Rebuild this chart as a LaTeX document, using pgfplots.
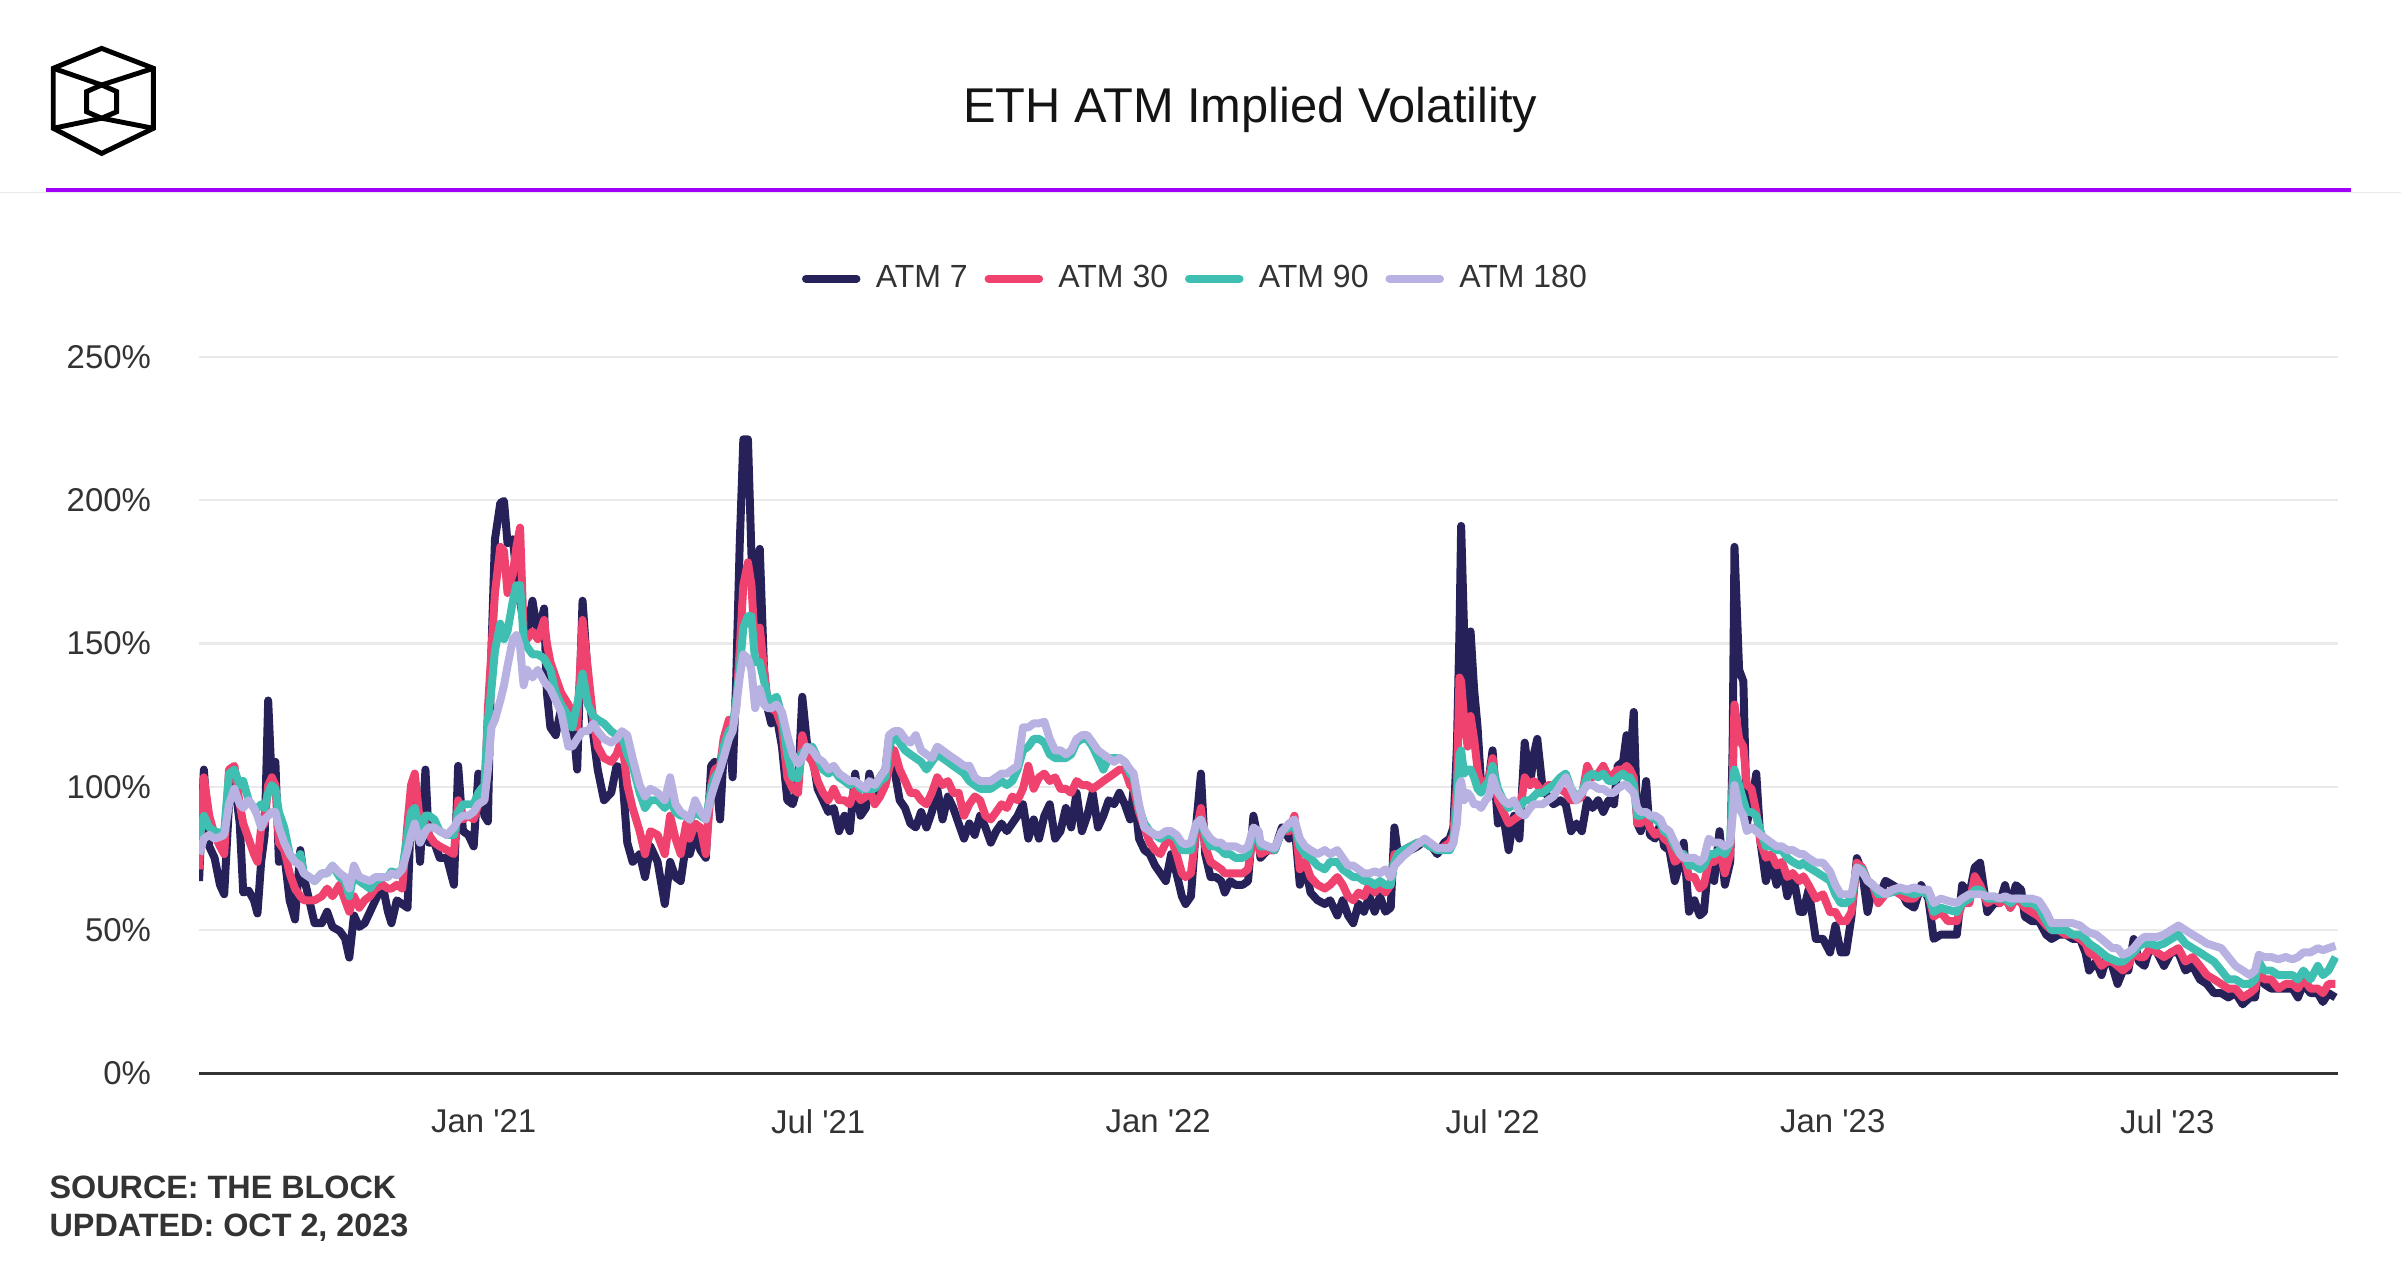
\documentclass[border=0pt]{standalone}
\usepackage{pgfplots}
\pgfplotsset{compat=1.18}
\usepackage{pgfplotstable}
\usepackage{fontspec}
\setmainfont{Liberation Sans}
\definecolor{cA}{HTML}{27215A}
\definecolor{cB}{HTML}{F0426E}
\definecolor{cC}{HTML}{3EBFB1}
\definecolor{cD}{HTML}{B8B2E2}
\definecolor{purp}{HTML}{A000F5}
\definecolor{txt}{HTML}{333333}
\definecolor{gridc}{HTML}{EAEAEA}

% x = days since 1 Jan 2021; columns: ATM 7, ATM 30, ATM 90, ATM 180 (in %)
\pgfplotstableread{
x a b c d
-154 67.1 71.2 81.9 76.5
-151.4 106 103.3 89.9 81.9
-148.5 79.2 89.9 85.8 83.2
-145.6 75.2 83.2 84.5 81.9
-142.7 65.8 79.2 83.9 82.5
-140.4 62.5 76.5 84.5 83.2
-137.8 93.9 106 104.6 93.9
-134.9 102.6 107.3 106 99.3
-132.0 87.2 93.9 100.6 93.9
-130.1 63.1 87.2 102 92.6
-127.2 63.8 81.9 95.3 95.3
-124.3 60.4 76.5 92.6 92.6
-122.4 55.8 73.8 92.6 89.9
-120.4 73.8 85.8 93.9 85.8
-118.5 83.2 87.2 92.6 88.6
-116.6 130.1 100.6 97.9 89.9
-114.6 100.6 103.3 100.6 91.2
-112.7 108.7 100.6 99.3 91.2
-110.8 73.8 80.5 91.2 85.8
-107.9 76.5 77.9 85.8 80.5
-105 60.4 69.8 76.5 76.5
-102.1 53.7 64.5 73.8 73.8
-99.2 77.9 61.8 76.5 72.5
-97.3 68.5 60.4 69.8 69.8
-94.4 60.4 60.4 68.5 68.5
-91.5 52.4 60.4 67.1 67.1
-87.6 52.4 61.8 69.8 69.8
-84.7 56.4 64.5 69.8 69.8
-81.8 51.1 61.8 72.5 72.5
-77.9 49.7 65.8 68.5 69.8
-75 47.1 60.4 67.1 68.5
-72.7 40.4 56.4 61.8 64.5
-70.2 55.1 61.8 69.8 72.5
-67.3 51.1 57.8 67.1 68.5
-64.4 52.4 60.4 65.8 67.8
-61.5 56.4 61.8 64.5 67.1
-58.6 60.4 64.5 67.1 68.5
-54.7 65.8 65.8 68.5 68.5
-51.8 56.4 64.5 68.5 68.5
-49.9 52.4 64.5 70.5 69.8
-47 60.4 65.8 69.8 69.1
-44.1 59.1 64.5 71.2 71.2
-41.2 57.8 87.2 83.2 77.9
-39.3 92.6 100.6 91.2 83.2
-37.3 100.6 104.6 92.6 87.2
-34.4 73.8 87.2 84.5 80.5
-31.5 106 87.2 89.9 84.5
-29.6 80.5 83.2 89.9 85.8
-26.7 80.5 80.5 88.6 85.8
-23.8 75.2 79.2 84.5 84.5
-19.9 75.2 77.9 83.2 83.2
-16.1 65.8 76.5 83.2 85.8
-13.8 107.3 95.3 91.2 88.6
-11.2 84.5 88.6 93.9 89.9
-8.3 83.2 89.9 93.9 89.9
-5.4 79.2 88.6 93.9 91.2
-2.9 104.6 93.9 97.9 93.9
0.4 89.9 95.3 100.6 95.3
2.3 87.9 127.4 123.4 106
4.2 147.5 147.5 134.1 120.7
6.1 186.3 167.6 147.5 123.4
9.0 199 183.7 156.9 130.1
11.0 199.7 182.3 151.5 135.4
12.9 185 167.6 154.2 142.1
15.8 186.3 174.3 164.9 151.5
17.7 174.3 183.7 170.3 152.9
19.7 165 190.4 170.3 148.8
21.6 157 154.2 151.5 135.4
23.5 154.2 151.5 148.8 140.8
26.4 164.9 154.2 146.2 138.1
29.3 152.9 151.5 146.2 140.8
32.7 162.2 158.2 144.8 136.8
34.2 132.8 150 143 135.5
36.1 120.7 143.5 140.8 134.1
39 118 138.1 132.8 130.1
41.9 127.4 132.8 128.7 126.1
45.8 116.7 128.7 124.7 114
48 124.7 126.1 120.7 114
50.6 106 120.7 128.7 116.7
53.5 164.9 158.2 139.5 119.4
56.4 138.1 140.8 128.7 119.4
59.3 118 123.4 124.7 122.1
61.7 106 114 123.4 119.4
65.1 95.3 110 122.1 116.7
69 97.9 108.7 119.4 115.4
71.9 107.3 111.3 118 116.7
74.8 106 116.7 118 119.4
77.7 80.5 100.6 111.3 118
80.6 73.8 92.6 107.3 110
84.4 76.5 84.5 97.9 100.6
87.3 68.5 76.5 92.6 96.6
90.2 79.2 84.5 95.3 99.3
94.1 73.8 83.2 95.3 97.9
98 59.1 76.5 92.6 95.3
100.9 73.8 89.9 95.3 103.3
103.8 68.5 81.9 91.2 93.9
106.6 67.1 76.5 89.9 91.2
109.6 80.5 87.2 89.9 89.9
111.5 76.5 81.9 88.6 88.6
114.4 83.2 87.2 91.2 95.3
117.3 77.9 85.8 89.9 91.2
120.2 75.2 76.5 88.6 88.6
123.1 107.3 100.6 99.3 96.6
125 108.7 106 103.3 100.6
127.9 88.6 107.3 106 106
129.8 111.3 116.7 114 110
132.7 120.7 123.4 119.4 116.7
134.7 103.3 120.7 120.7 119.4
136.6 136.8 127.4 130.1 127.4
138.5 183.7 147.5 140.8 138.1
140.5 221.2 170.3 155.5 146.2
143 221.2 178.3 159.5 144.8
144.9 181 170.3 159.5 140.8
146.9 154.2 147.5 143.5 127.4
149.4 183 155.5 143.5 134.1
151.7 140.8 140.8 136.8 128.7
153.6 127.4 130.1 131.4 127.4
155.6 122.1 127.4 130.1 127.4
158.5 124.7 126.1 131.4 128.7
161.4 114 120.7 124.7 126.1
164.3 95.3 103.3 111.3 118
167.2 93.9 99.3 103.3 111.3
170.1 100.6 97.9 103 108
172.4 131.4 118 112 110
174.9 115.4 111.3 112.7 114
177.8 111.3 108.7 114 112.7
180.7 99.3 102 110 110
183.6 95.3 97.9 106 108.7
186.5 91.2 95.3 104.6 106
189.4 92.6 99.3 106 107.3
192.3 84.5 95.3 103.3 104.6
195.2 89.9 95.3 102 103.3
198.1 84.5 93.9 100.6 102
201 104.6 99.3 102 102
203.9 89.9 95.3 99.3 100.6
206.8 92.6 96.6 99.3 99.3
208.7 104.6 99.3 99.3 102
211.6 96.6 93.9 99.3 100.6
214.5 103.3 96.6 102 103.3
217.4 106 100.6 103.3 106
219.3 116.7 106 114 118
222.2 106 112.7 118 119.4
225.1 95.3 106 115.4 119.4
228 92.6 102 112.7 116.7
230.9 87.2 97.9 111.3 115.4
233.8 85.8 97.9 110 118
236.7 91.2 95.3 108.7 112.7
239.6 85.8 93.9 106 111.3
242.5 91.2 97.9 108.7 110
245.4 99.3 103.3 111.3 114
248.3 88.6 100.6 110 112.7
251.2 96.6 102 108.7 111.3
254.1 92.6 97.9 107.3 110
257 87.2 97.9 106 108.7
259.9 81.9 89.9 104.6 107.3
262.8 87.2 93.9 102 107.3
265.7 83.2 96.6 100.6 103.3
268.6 89.9 95.3 99.3 102
271.5 85.8 89.9 99.3 102
274.4 80.5 88.6 99.3 102
277.3 84.5 91.2 100.6 103.3
280.2 87.2 93.9 102 104.6
283.1 84.5 92.6 100.6 104.6
286 87.2 96.6 102 106
288.9 89.9 95.3 106 107.3
291.8 93.9 99.3 112.7 120.7
294.7 81.9 107.3 114 120.7
297.6 88.6 99.3 116.7 122.1
300.5 81.9 103.3 116.7 122.1
303.4 89.9 104.6 115.4 122.7
306.3 93.9 102 111.3 116.7
309.2 81.9 103.3 110 112.7
312.1 84.5 99.3 110 112.7
315 92.6 99.3 110 111.3
317.9 85.8 97.9 111.3 112.7
320.8 97.9 102 115.4 116.7
323.7 84.5 100.6 116.7 118
326.6 89.9 100.6 116.7 118
329.5 97.9 99.3 114 115.4
332.4 85.8 100.6 110 112.7
335.3 89.9 102 106 111.3
338.2 95.3 103.3 110 110
341.1 93.9 104.6 110 108.7
344 97.9 106 110 110
346.9 93.9 106 108.7 108.7
349.8 88.6 100.6 104.6 106
351.7 99.3 99.3 103.3 104.6
354.6 81.9 91.2 92.6 93.9
357.5 77.9 85.8 87.2 85.8
360.4 76.5 80.5 84.5 84.5
363.3 72.5 77.9 83.2 83.2
366.2 69.8 76.5 81.9 83.2
369.1 67.1 80.5 83.2 84.5
372 76.5 81.9 83.2 84.5
374.9 69.8 76.5 81.9 83.2
377.8 61.8 69.8 77.9 80.5
379.8 59.1 68.5 77.9 79.9
382.7 61.8 69.8 77.9 80.5
385.6 87.2 84.5 87.2 87.2
388.1 104.6 92.6 88.6 88.6
390.4 76.5 79.2 83.2 84.5
393.3 68.5 73.8 79.2 81.9
396.2 68.5 72.5 79.2 80.5
399.1 67.1 71.2 77.9 80.5
401 63.1 69.8 76.5 79.2
403.9 67.1 69.8 76.5 79.2
406.8 65.8 69.8 75.2 79.2
410.7 65.8 69.8 75.2 77.9
413.6 67.1 71.2 76.5 79.2
416.5 89.9 84.5 84.5 85.8
419.4 80.5 79.2 81.9 84.5
420.3 75.2 76.5 79.2 80.5
424.2 77.9 77.9 79.2 79.2
428 77.9 77.9 77.9 78.6
431.9 85.8 84.5 84.5 84.5
435.8 81.9 84.5 85.8 87.2
438.7 87.2 89.9 87.2 88.6
441.6 65.8 71.2 79.2 81.9
444.5 72.5 73.8 76.5 79.2
447.4 63.1 68.5 75.2 77.9
451.2 60.4 65.8 72.5 76.5
455.1 59.1 64.5 71.2 77.9
458 60.4 65.8 73.8 76.5
461.9 55.1 68.5 73.8 77.9
464.8 60.4 65.8 71.2 75.2
467.7 55.1 61.8 69.8 72.5
470.5 52.4 60.4 68.5 72.5
473.4 59.1 63.1 68.5 71.2
476.3 56.4 61.8 67.1 69.8
479.2 61.8 65.8 67.1 69.8
482.1 56.4 63.1 65.8 70.5
485 61.8 65.8 67.1 69.8
487.9 56.4 63.1 65.8 71.2
490.8 57.8 65.8 65.8 68.5
492.8 85.8 76.5 73.8 72.5
494.7 76.5 76.5 76.5 73.8
497.6 77.2 77.9 77.9 75.8
501.5 77.9 79.2 79.2 77.9
505.3 79.2 80.5 80.5 79.9
509.2 81.2 80.5 80.5 81.9
512.1 79.9 79.2 79.2 80.5
516 76.5 77.9 77.9 78.6
519.8 80.5 79.2 77.9 78.6
522.7 81.9 80.5 77.9 78.6
524.7 85.8 83.2 80.5 80.5
526.6 114 100.6 93.9 87.2
528 154.2 138.1 111.3 100.6
528.9 191 136.8 112.7 102
530.5 154.2 123.4 104.6 95.3
532.4 120.7 114 106 97.9
534 154.2 124.7 106 96.6
535.9 134.1 116.7 103.3 93.9
537.8 120.7 106 99.3 93.9
539.7 100.6 99.3 97.9 92.6
542.1 100.6 102 100.6 95.3
544 103.3 103.3 102 96.6
545.9 112.7 110 107.3 103.3
548.8 87.2 95.3 99.3 97.9
551.7 89.9 91.2 95.3 95.3
554.6 77.9 87.2 92.6 93.9
557.5 89.9 88.6 93.9 95.3
560.4 81.9 89.9 92.6 91.2
563.3 115.4 103.3 95.3 89.9
566.2 100.6 100.6 95.3 92.6
568.2 111.3 102 96.6 93.9
570.1 116.7 100.6 97.9 93.9
573 99.3 97.9 97.9 93.9
575.9 96.6 100.6 99.3 95.3
578.8 93.9 100.6 100.6 96.6
582.6 95.3 99.3 103.3 100.6
585.5 93.9 97.9 104.6 103.3
588.4 84.5 95.3 99.3 99.3
591.3 87.2 95.3 96.6 95.3
594.2 84.5 96.6 97.9 97.9
597.1 95.3 107.3 103.3 100.6
600 92.6 103.3 104.6 100.6
603 95.3 104.6 103.3 99.3
605.8 91.2 107.3 104.6 99.3
608.7 95.3 103.3 102 97.9
611.6 93.9 104.6 102 97.9
613.6 107.3 106 103.3 99.3
616.5 108.7 106 104.6 100.6
618.4 118 107.3 103.3 100.6
620.3 108.7 106 103.3 99.3
622.3 126.1 103.3 100.6 97.9
624.2 87.2 87.2 89.9 92.6
626.1 84.5 87.2 89.9 91.2
629 102 89.9 91.2 91.2
631 83.2 85.8 89.9 89.9
633.9 81.9 83.2 88.6 89.9
636.8 87.2 84.5 87.2 88.6
638.7 79.2 81.9 84.5 85.8
641.6 77.9 80.5 83.2 84.5
644.5 67.1 73.8 79.2 80.5
647.4 73.8 75.2 76.5 76.5
649.3 80.5 76.5 76.5 75.2
652.2 56.4 68.5 72.5 75.2
655.1 60.4 68.5 72.5 75.2
658 55.1 64.5 71.2 73.8
660.3 56.4 65.8 72.5 75.2
662.9 75.2 73.8 76.5 81.9
665.8 67.1 73.8 76.5 80.5
668.7 84.5 77.9 77.9 80.5
671.6 65.8 69.8 76.5 79.2
674.5 73.8 76.5 80.5 80.5
675.8 114 100.6 100.6 89.9
676.8 183.7 128.7 106 100.6
679.3 140.8 116.7 100.6 92.6
681.6 136.8 114 95.3 89.9
683.5 87.2 100.6 91.2 84.5
686 93.9 99.3 91.2 85.8
688.6 104.6 91.2 89.9 84.5
690.9 80.5 80.5 84.5 83.2
693.8 67.1 75.2 79.2 81.9
696.7 73.8 76.5 79.2 80.5
699.6 65.8 72.5 77.9 79.2
702.5 72.5 73.8 77.9 79.2
705.4 61.8 68.5 75.2 77.9
708.3 69.8 69.8 73.8 77.9
712.1 56.4 67.1 72.5 76.5
714 56.3 68.8 73.5 76.6
716.9 64.1 65.7 71.9 75.1
720.8 46.9 61 70.4 73.5
724.7 46.9 62.5 68.8 73.5
728.5 42.2 56.3 67.2 70.4
731.4 51.6 56.3 62.5 65.7
734.3 42.2 53.1 59.4 62.5
737.2 42.2 53.1 59.4 62.5
740.1 54.7 56.3 61 62.5
743 75.1 73.5 71.9 71.9
745.9 70.4 71.9 71.2 70.4
748.8 56.3 67.2 67.2 67.2
751.7 65.7 65.7 65.7 65.7
754.6 61 59.4 62.5 64.1
758.5 67.2 62.5 62.5 62.5
762.4 65.7 64.1 63.3 64.1
766.2 64.1 62.5 64.1 64.9
770.1 59.4 61 63.3 64.1
774 57.8 61 62.5 64.9
777.8 65.7 64.1 63.3 64.1
781.7 61 62.5 62.5 64.1
784.6 46.9 54.7 56.3 59.4
788.4 48.4 56.3 57.8 61
792.3 48.4 53.1 57.1 60.2
797.1 48.4 53.1 56.3 59.4
800 65.7 59.4 59.4 61
803.9 62.5 59.4 61 62.5
806.8 71.9 68.8 64.1 62.5
809.7 73.5 65.7 64.1 62.5
813.6 56.3 59.4 61 61.8
817.4 59.4 61 61 61.8
820.3 59.4 59.4 61 61
823.2 65.7 61 61 61.8
826.1 57.8 57.8 59.4 61
829 65.7 61 61 61
831.9 64.1 59.4 61 61
833.9 54.7 57.8 59.4 61
837.7 53.1 56.3 59.4 61
841.6 53.1 54.7 57.8 60.2
845.5 48.4 51.6 53.1 56.3
848.4 46.9 50 50 52.4
852.2 48.4 50 50 52.4
856.1 48.4 48.4 50 52.4
859.9 46.9 48.4 48.4 52.4
863.8 46.9 46.9 48.4 51.6
866.7 42.2 45.3 46.9 50
868.7 35.9 42.2 45.3 49.2
872.5 39 40.6 43.7 48.4
875.4 34.3 37.5 42.2 46.9
878.3 40.6 39 40.6 45.3
881.2 37.5 39 39.8 43.7
884.1 31.2 37.5 39 43.7
887 35.9 35.9 39 41.4
889.9 35.9 37.5 40.6 42.2
892.8 46.9 42.2 42.2 43.7
895.7 39 40.6 44.5 46.1
898.6 37.5 40.6 45.3 47.6
901.5 43.7 43.7 45.3 47.6
905.4 42.2 42.2 44.5 47.6
909.2 37.5 40.6 45.3 48.4
913.1 42.2 42.2 46.9 50
917 42.2 43.7 48.4 51.6
920.8 35.9 39 45.3 50
924.7 37.5 40.6 43.7 48.4
928.6 32.8 37.5 42.2 46.9
932.4 31.2 34.3 40.6 45.3
936.3 28 32.8 39 44.5
940.2 28 31.2 35.9 43.7
944 26.5 29.6 32.8 40.6
947.9 28 29.6 32.8 37.5
951.8 24.1 26.5 31.2 35.9
955.6 26.5 28 31.2 34.3
958.5 26.5 29.6 32.8 35.9
960.5 37.5 35.9 39 41.4
963.4 31.2 32.8 35.9 40.6
967.2 29.6 32.8 35.9 40.6
971.1 29.6 29.6 34.3 39.8
975 29.6 31.2 34.3 40.6
978.8 29.6 31.2 34.3 39.8
981.7 26.5 29.6 32.8 40.6
984.6 31.2 32.8 35.9 42.2
988.5 28 29.6 32.8 42.2
992.4 28 29.6 37.5 43.7
995.2 24.9 28 34.3 43
998.2 28 31.2 35.9 43.7
1002 26.5 31.2 40.6 44.5
}\ivdata

\begin{document}
\begin{tikzpicture}[x=1bp,y=1bp]
\useasboundingbox (0,0) rectangle (784,411.5);
\fill[white] (0,0) rectangle (784,411.5);
% logo
\begin{scope}[line width=1.6bp, line join=miter, draw=black]
\draw (33.2,395.7) -- (50.1,389.2) -- (50.1,369.6) -- (33.2,361.4) -- (17.4,369.6) -- (17.4,389.2) -- cycle;
\draw (33.2,383.75) -- (38.1,381.6) -- (38.1,375.0) -- (33.2,372.9) -- (28.3,375.0) -- (28.3,381.6) -- cycle;
\draw (17.4,389.2) -- (33.2,383.75) -- (50.1,389.2);
\draw (17.4,369.6) -- (33.2,372.9) -- (50.1,369.6);
\end{scope}
% title
\node[anchor=base, inner sep=0pt, font=\fontsize{16}{19}\selectfont, text=black!92] at (408.25,371.5) {ETH ATM Implied Volatility};
% header rules
\draw[gridc, line width=0.5bp] (0,348.6) -- (784,348.6);
\draw[purp, line width=1.1bp] (15,349.5) -- (767.5,349.5);
% source
\node[anchor=base west, inner sep=0pt, font=\bfseries\fontsize{10.6}{12}\selectfont, text=txt] at (16,20.3) {SOURCE: THE BLOCK};
\node[anchor=base west, inner sep=0pt, font=\bfseries\fontsize{10.6}{12}\selectfont, text=txt] at (16,7.6) {UPDATED: OCT 2, 2023};

\begin{axis}[
  at={(65bp,61bp)}, anchor=south west, scale only axis,
  width=698.5bp, height=234bp,
  xmin=-154, xmax=1003.5, ymin=0, ymax=250,
  axis line style={draw=none},
  major tick length=0pt,
  xtick={0,181,365,546,730,911},
  xticklabels={Jan \textquotesingle21, Jul \textquotesingle21, Jan \textquotesingle22, Jul \textquotesingle22, Jan \textquotesingle23, Jul \textquotesingle23},
  ytick={50,100,150,200,250},
  extra y ticks={0},
  extra y tick style={grid style={draw=txt, line width=1.1bp}},
  ymajorgrids, grid style={draw=gridc, line width=0.7bp},
  /pgf/number format/assume math mode=true,
  yticklabel={\pgfmathprintnumber{\tick}\%},
  tick label style={font=\fontsize{10.8}{12}\selectfont, text=txt, inner sep=0pt},
  yticklabel style={anchor=east, xshift=-15.5bp},
  xticklabel style={anchor=north, yshift=-11.5bp},
  clip=true,
  legend columns=4,
  legend style={at={(0.4653,1.109)}, anchor=center, draw=none, fill=none,
    font=\fontsize{10.5}{12}\selectfont, text=txt,
    nodes={inner sep=0pt},
    /tikz/every odd column/.append style={column sep=5bp},
    /tikz/every even column/.append style={column sep=5.5bp}},
  legend image code/.code={\draw[#1, line width=2.6bp, line cap=round] (0bp,0bp) -- (16.5bp,0bp);},
  every axis plot/.append style={line width=2.6bp, line join=round, mark=none},
]
\addplot[cA] table[x=x, y=a] {\ivdata};
\addlegendentry{ATM 7}
\addplot[cB] table[x=x, y=b] {\ivdata};
\addlegendentry{ATM 30}
\addplot[cC] table[x=x, y=c] {\ivdata};
\addlegendentry{ATM 90}
\addplot[cD] table[x=x, y=d] {\ivdata};
\addlegendentry{ATM 180}
\end{axis}
\end{tikzpicture}
\end{document}
